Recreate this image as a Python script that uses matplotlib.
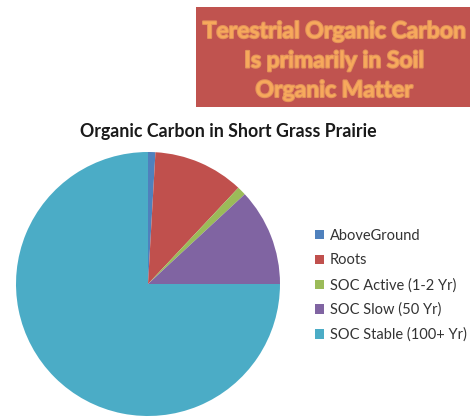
import matplotlib
matplotlib.use('Agg')
import matplotlib.pyplot as plt
import matplotlib.patheffects as pe
from matplotlib.patches import Rectangle

labels = ['AboveGround', 'Roots', 'SOC Active (1-2 Yr)', 'SOC Slow (50 Yr)', 'SOC Stable (100+ Yr)']
values = [0.9, 11.1, 1.1, 11.9, 75.0]
colors = ['#4F81BD', '#C0504D', '#9BBB59', '#8064A2', '#4BACC6']

title = 'Organic Carbon in Short Grass Prairie'
banner = 'Terestrial Organic Carbon\nIs primarily in Soil\nOrganic Matter'

W, H = 472, 417
fig = plt.figure(figsize=(W / 100, H / 100), dpi=100)
fig.patch.set_facecolor('white')

# red banner box (figure pixel coords -> fractions)
fig.patches.append(Rectangle((196 / W, 1 - 107 / H), 274 / W, 100 / H,
                             transform=fig.transFigure, facecolor='#C0534F',
                             edgecolor='none', zorder=0))
fig.text(334 / W, 1 - 61 / H, banner, ha='center', va='center',
         fontsize=16.5, fontweight='bold', family='Lato', color='#F7A95C',
         linespacing=1.5,
         path_effects=[pe.withStroke(linewidth=1.5, foreground='#E3925A')])

fig.text(228 / W, 1 - 131 / H, title, ha='center', va='center',
         fontsize=12.8, fontweight='bold', family='Lato', color='#1a1a1a')

# pie: centre (148, 284) radius 132 px
cx, cy, r = 148, 284, 132
ax = fig.add_axes([(cx - r) / W, (H - cy - r) / H, 2 * r / W, 2 * r / H])
wedges, _ = ax.pie(values, colors=colors, startangle=90, counterclock=False,
                   wedgeprops={'linewidth': 0})
ax.set_xlim(-1, 1)
ax.set_ylim(-1, 1)
ax.set_aspect('equal')
ax.axis('off')

fig.legend(wedges, labels, loc='upper left',
           bbox_to_anchor=(315 / W, 1 - 229 / H), frameon=False,
           prop={'family': 'Lato', 'size': 10.5}, labelcolor='#333333',
           handlelength=0.6, handleheight=0.6, handletextpad=0.4,
           labelspacing=0.72, borderaxespad=0, borderpad=0)

fig.savefig('out.png', dpi=100)
